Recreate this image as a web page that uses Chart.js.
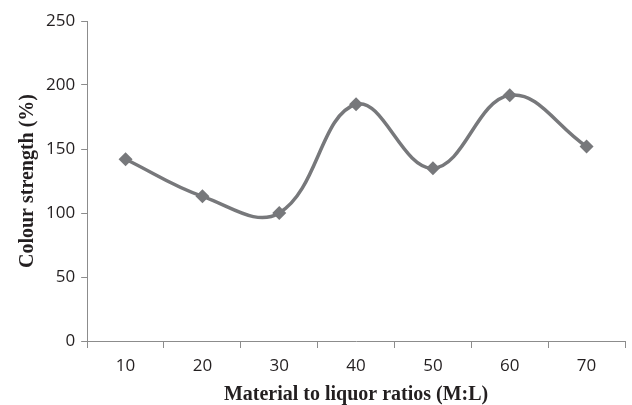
<!DOCTYPE html>
<html>
<head>
<meta charset="utf-8">
<script src="https://cdn.jsdelivr.net/npm/chart.js@4/dist/chart.umd.min.js"></script>
<style>
  html, body { margin: 0; padding: 0; background: #fff; }
  #wrap { width: 632px; height: 405px; }
</style>
</head>
<body>
<div id="wrap"><canvas id="myChart" width="632" height="405"></canvas></div>
<script>
const ratios = ['10', '20', '30', '40', '50', '60', '70'];
const strength = [142, 113, 100, 185, 135, 192, 152];
const yTicks = [0, 50, 100, 150, 200, 250];

const grey = '#77787b';
const axisGrey = '#8c8c8c';

const ctx = document.getElementById('myChart').getContext('2d');
const myChart = new Chart(ctx, {
    type: 'line',
    data: {
        labels: ratios,
        datasets: [{
            label: 'Colour strength',
            data: strength,
            borderColor: grey,
            backgroundColor: grey,
            borderWidth: 3.5,
            tension: 0.4,
            pointStyle: 'rectRot',
            pointRadius: 7,
            pointBorderWidth: 0
        }]
    },
    options: {
        responsive: false,
        animation: false,
        layout: { padding: { left: 16, right: 2, top: 21, bottom: 0 } },
        plugins: {
            legend: { display: false },
            tooltip: { enabled: false }
        },
        scales: {
            x: {
                offset: true,
                grid: {
                    offset: true,
                    drawOnChartArea: false,
                    drawTicks: true,
                    tickLength: 7,
                    color: axisGrey
                },
                border: { color: axisGrey, width: 1 },
                ticks: {
                    color: '#231f20',
                    font: { family: 'Open Sans', size: 17, lineHeight: 1 },
                    padding: 10
                },
                title: {
                    display: true,
                    text: 'Material to liquor ratios (M:L)',
                    color: '#231f20',
                    font: { family: 'Liberation Serif', size: 20, weight: 'bold', lineHeight: 1 },
                    padding: { top: 0, bottom: 0 }
                }
            },
            y: {
                min: 0,
                max: 250,
                afterBuildTicks: function (axis) {
                    axis.ticks = yTicks.map(function (v) { return { value: v }; });
                },
                grid: {
                    drawOnChartArea: false,
                    drawTicks: true,
                    tickLength: 6,
                    color: axisGrey
                },
                border: { color: axisGrey, width: 1 },
                ticks: {
                    color: '#231f20',
                    font: { family: 'Open Sans', size: 17 },
                    padding: 6
                },
                title: {
                    display: true,
                    text: 'Colour strength (%)',
                    color: '#231f20',
                    font: { family: 'Liberation Serif', size: 20, weight: 'bold' },
                    padding: { top: 0, bottom: 0 }
                }
            }
        }
    }
});
</script>
</body>
</html>
